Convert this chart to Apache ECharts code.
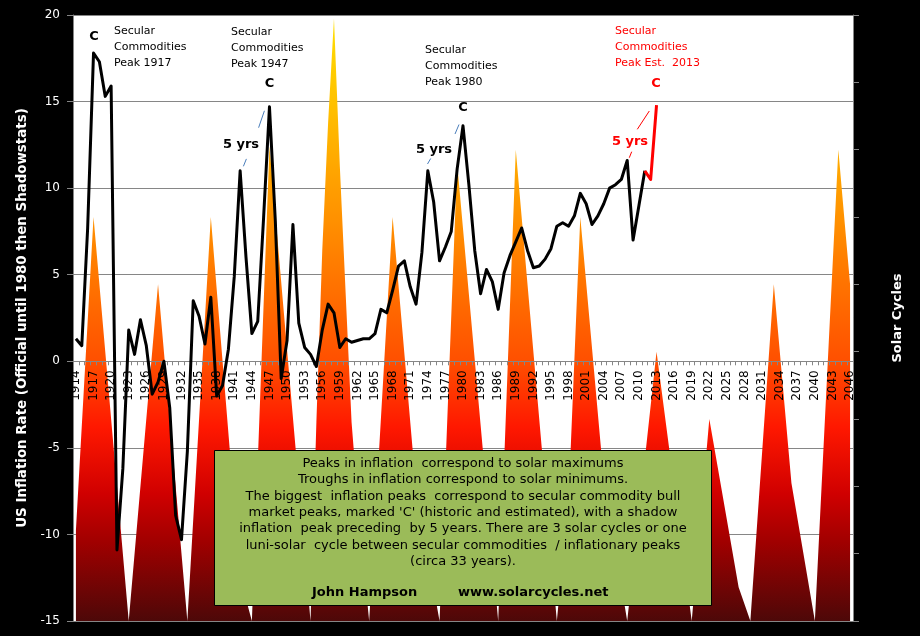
<!DOCTYPE html>
<html><head><meta charset="utf-8">
<script src="https://cdn.jsdelivr.net/npm/echarts@6/dist/echarts.min.js"></script>
<style>html,body{margin:0;padding:0;background:#000;}#c{width:920px;height:636px;}</style>
</head><body><div id="c"></div>
<script>
// Categories: every year 1914..2046
const firstYear = 1914, lastYear = 2046;
const years = [];
for (let y = firstYear; y <= lastYear; y++) years.push(String(y));

// US inflation rate 1914..2011 (official until 1980, then Shadowstats)
const inflation = [
  1.3, 0.9, 7.7, 17.8, 17.3, 15.3, 15.9, -10.9, -6.2, 1.8,
  0.4, 2.4, 0.9, -1.9, -1.2, 0.0, -2.7, -8.9, -10.3, -5.2,
  3.5, 2.6, 1.0, 3.7, -2.0, -1.4, 0.7, 4.9, 11.0, 6.0,
  1.6, 2.3, 8.3, 14.7, 8.1, -1.0, 1.2, 7.9, 2.2, 0.8,
  0.4, -0.3, 1.8, 3.3, 2.8, 0.8, 1.3, 1.1, 1.2, 1.3,
  1.3, 1.6, 3.0, 2.8, 4.1, 5.5, 5.8, 4.3, 3.3, 6.3,
  11.0, 9.2, 5.8, 6.6, 7.5, 11.1, 13.6, 10.2, 6.4, 3.9,
  5.3, 4.6, 3.0, 5.1, 6.1, 6.9, 7.7, 6.4, 5.4, 5.5,
  5.9, 6.5, 7.8, 8.0, 7.8, 8.4, 9.7, 9.1, 7.9, 8.4,
  9.1, 10.0, 10.2, 10.5, 11.6, 7.0, 9.0, 11.0
];
// Estimated path to the 2013 secular peak
const estYears = ['2011', '2012', '2013'];
const estValues = [11.0, 10.5, 14.8];

// Solar cycles (right axis, sunspot-like units) at turning points
const solarYears = [1914, 1917, 1923, 1928, 1933, 1937, 1942, 1944, 1947, 1954, 1955, 1956, 1957, 1958, 1959, 1960, 1961, 1962, 1963, 1964,
  1968, 1972, 1976, 1979, 1986, 1989, 1996, 1998, 2000, 2004, 2008, 2013, 2019, 2022, 2027, 2029, 2033, 2036, 2040, 2044, 2046];
const solarValues = [27, 120, 0, 100, 0, 120, 13, 0, 141, 0, 59, 110, 148, 179, 135, 97, 59, 37, 18, 0,
  120, 39, 0, 136, 0, 140, 0, 36, 120, 42, 0, 80, 0, 60, 10, 0, 100, 41, 0, 140, 100];

const boxLines = [
  'Peaks in inflation  correspond to solar maximums',
  'Troughs in inflation correspond to solar minimums.',
  'The biggest  inflation peaks  correspond to secular commodity bull',
  "market peaks, marked 'C' (historic and estimated), with a shadow",
  'inflation  peak preceding  by 5 years. There are 3 solar cycles or one',
  'luni-solar  cycle between secular commodities  / inflationary peaks',
  '(circa 33 years).'
];

// ---- build series data ----
const inflData = years.map((y, i) => i < inflation.length ? inflation[i] : null);
const estData = years.map(y => { const k = estYears.indexOf(y); return k >= 0 ? estValues[k] : null; });
const solarData = years.map(y => { const k = solarYears.indexOf(+y); return k >= 0 ? solarValues[k] : null; });

const FONT = 'DejaVu Sans';
const AX = '#868686';
const GRID = { left: 73, right: 67, top: 15, bottom: 15 };
const plotH = 636 - GRID.top - GRID.bottom;
const yMin = -15, yMax = 20;
// move the category axis up to the zero line of the left axis
const xOffset = -plotH * (0 - yMin) / (yMax - yMin);

const chart = echarts.init(document.getElementById('c'));

const grad = new echarts.graphic.LinearGradient(0, GRID.top, 0, 636 - GRID.bottom, [
  { offset: 0, color: '#FFE000' },
  { offset: 0.15, color: '#FFC000' },
  { offset: 0.34, color: '#FF9000' },
  { offset: 0.57, color: '#FF5000' },
  { offset: 0.68, color: '#FF1800' },
  { offset: 0.79, color: '#D00000' },
  { offset: 0.87, color: '#A00000' },
  { offset: 1, color: '#4D0808' }
], true);

function txt(x, y, text, opts) {
  return {
    type: 'text', x: x, y: y, z: 100,
    style: Object.assign({ text: text, fill: '#000', font: '11px ' + FONT, lineHeight: 16, verticalAlign: 'middle', align: 'left' }, opts || {})
  };
}
function block(x, yFirst, text, opts) {
  return txt(x, yFirst - 8, text, Object.assign({ verticalAlign: 'top' }, opts || {}));
}
function seg(x1, y1, x2, y2, c) {
  return { type: 'line', z: 100, shape: { x1: x1, y1: y1, x2: x2, y2: y2 }, style: { stroke: c, lineWidth: 1 } };
}

const graphics = [
  block(114, 31, 'Secular\nCommodities\nPeak 1917'),
  block(231, 32, 'Secular\nCommodities\nPeak 1947'),
  block(425, 50, 'Secular\nCommodities\nPeak 1980'),
  block(615, 31, 'Secular\nCommodities\nPeak Est.  2013', { fill: '#FF0000' }),
  txt(94, 37, 'C', { font: 'bold 13px ' + FONT, align: 'center' }),
  txt(269.5, 84, 'C', { font: 'bold 13px ' + FONT, align: 'center' }),
  txt(463, 108, 'C', { font: 'bold 13px ' + FONT, align: 'center' }),
  txt(656, 84, 'C', { font: 'bold 13px ' + FONT, align: 'center', fill: '#FF0000' }),
  txt(241, 145, '5 yrs', { font: 'bold 13px ' + FONT, align: 'center' }),
  txt(434, 150, '5 yrs', { font: 'bold 13px ' + FONT, align: 'center' }),
  txt(630, 142, '5 yrs', { font: 'bold 13px ' + FONT, align: 'center', fill: '#FF0000' }),
  seg(243.4, 166.3, 246.4, 158.9, '#4A7EBB'), seg(258.6, 127.7, 264.4, 110.8, '#4A7EBB'),
  seg(427.5, 164, 430.7, 158.5, '#4A7EBB'), seg(455, 134, 459, 124.5, '#4A7EBB'),
  seg(629.3, 157.7, 631.7, 151.7, '#FF0000'), seg(637.3, 129.3, 649.3, 111, '#FF0000'),
  { type: 'rect', z: 100, shape: { x: 214.5, y: 450.5, width: 497, height: 155 }, style: { fill: '#9BBB59', stroke: '#000', lineWidth: 1 } },
  txt(463, 455.2, boxLines.join('\n'), { font: '13px ' + FONT, align: 'center', verticalAlign: 'top', lineHeight: 16.4 }),
  txt(312, 593, 'John Hampson', { font: 'bold 13px ' + FONT }),
  txt(458, 593, 'www.solarcycles.net', { font: 'bold 13px ' + FONT })
];

chart.setOption({
  backgroundColor: '#000',
  animation: false,
  grid: Object.assign({ show: true, backgroundColor: '#fff', borderWidth: 0, containLabel: false, outerBoundsMode: 'none' }, GRID),
  xAxis: {
    type: 'category', data: years, boundaryGap: true, z: 3, offset: xOffset,
    axisLine: { show: true, onZero: false, lineStyle: { color: AX, width: 1 } },
    axisTick: { show: true, interval: 0, length: 4, lineStyle: { color: AX } },
    axisLabel: { interval: 2, rotate: 90, color: '#000', fontSize: 12, fontFamily: FONT, margin: 9, hideOverlap: false },
    splitLine: { show: false }
  },
  yAxis: [{
    type: 'value', min: yMin, max: yMax, interval: 5, position: 'left',
    name: 'US Inflation Rate (Official until 1980 then Shadowstats)', nameLocation: 'middle', nameRotate: 90, nameGap: 40,
    nameTextStyle: { color: '#fff', fontWeight: 'bold', fontSize: 13.4, fontFamily: FONT },
    axisLine: { show: true, lineStyle: { color: AX } },
    axisTick: { show: true, length: 6, lineStyle: { color: AX } },
    axisLabel: { color: '#fff', fontSize: 12, fontFamily: FONT, margin: 13 },
    splitLine: { show: true, lineStyle: { color: AX, width: 1 } }
  }, {
    type: 'value', min: 0, max: 180, interval: 20, position: 'right',
    name: 'Solar Cycles', nameLocation: 'middle', nameRotate: 90, nameGap: 38,
    nameTextStyle: { color: '#fff', fontWeight: 'bold', fontSize: 13, fontFamily: FONT },
    axisLine: { show: true, lineStyle: { color: AX } },
    axisTick: { show: true, length: 6, lineStyle: { color: AX } },
    axisLabel: { show: false },
    splitLine: { show: false }
  }],
  series: [{
    name: 'Solar', type: 'line', yAxisIndex: 1, data: solarData, connectNulls: true, z: 1,
    symbol: 'none', silent: true, lineStyle: { width: 0 },
    areaStyle: { color: grad, opacity: 1, origin: 'start' }
  }, {
    name: 'Inflation', type: 'line', yAxisIndex: 0, data: inflData, z: 5,
    symbol: 'none', lineStyle: { color: '#000', width: 3, join: 'round' }
  }, {
    name: 'Estimate', type: 'line', yAxisIndex: 0, data: estData, z: 6,
    symbol: 'none', lineStyle: { color: '#FF0000', width: 3, join: 'round' }
  }],
  graphic: graphics
});
</script></body></html>
